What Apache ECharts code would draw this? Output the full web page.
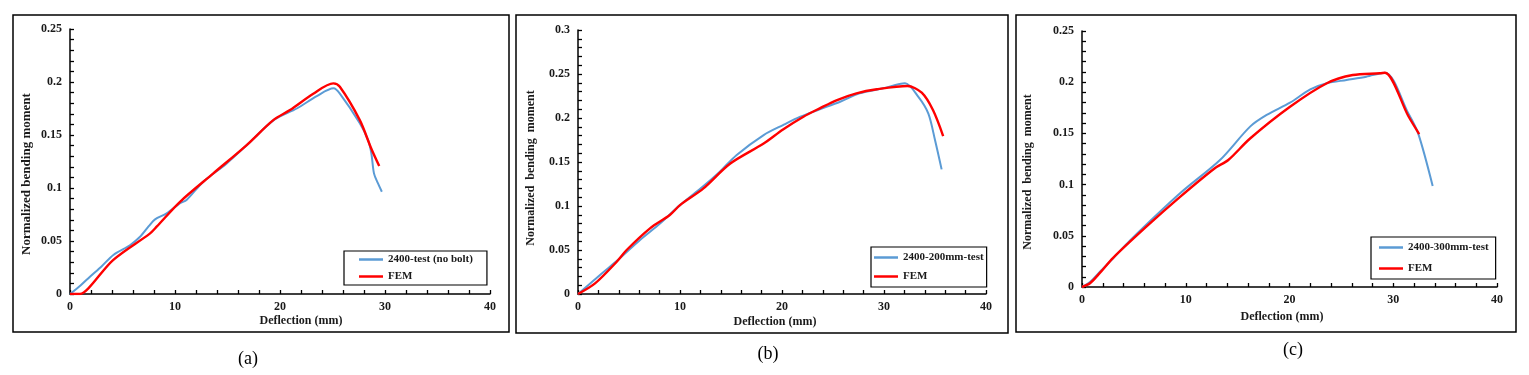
<!DOCTYPE html>
<html>
<head>
<meta charset="utf-8">
<script src="https://cdn.jsdelivr.net/npm/echarts@6/dist/echarts.min.js"></script>
<style>
html,body{margin:0;padding:0;background:#fff;}
#chart{width:1529px;height:375px;}
</style>
</head>
<body>
<div id="chart"></div>
<script>
// ---------- data ----------
const xTicks = [0, 10, 20, 30, 40];
const aTestX = [0, 1.0, 1.9, 3.0, 4.13, 5.71, 6.67, 7.5, 8.1, 9.2, 10.48, 11.1, 12.7, 14.9, 17.0, 19.4, 21.6, 23.5, 25.1, 25.7, 27.6, 28.4, 28.7, 28.95, 29.3, 29.7];
const aTestY = [0, 0.008, 0.0163, 0.026, 0.0368, 0.046, 0.054, 0.064, 0.0704, 0.076, 0.0857, 0.0887, 0.106, 0.123, 0.142, 0.164, 0.175, 0.1867, 0.194, 0.189, 0.161, 0.145, 0.1327, 0.1138, 0.105, 0.0965];
const aFemX = [0, 0.95, 1.75, 4.1, 7.6, 8.25, 10.48, 13.65, 16.83, 19.36, 20.95, 23.17, 25.08, 25.7, 27.6, 28.7, 29.45];
const aFemY = [0, 0, 0.0053, 0.032, 0.057, 0.0635, 0.087, 0.1138, 0.1405, 0.164, 0.1735, 0.189, 0.1987, 0.1955, 0.164, 0.137, 0.1207];

const bTestX = [0, 2.16, 4.1, 6.08, 8.04, 10, 12.3, 13.9, 15.56, 18.2, 20.1, 21.8, 23.7, 25.7, 27.6, 29.9, 32.06, 33.37, 34.35, 35, 35.65];
const bTestY = [0, 0.0216, 0.0405, 0.0614, 0.080, 0.101, 0.1227, 0.139, 0.158, 0.1806, 0.192, 0.2015, 0.2098, 0.2185, 0.228, 0.2337, 0.2394, 0.224, 0.205, 0.175, 0.1416];
const bFemX = [0, 1.67, 3.8, 4.77, 7.06, 9.0, 10, 12.3, 14.9, 18.2, 20.1, 22.1, 23.7, 25.4, 27.3, 29.3, 32.3, 33.7, 34.8, 35.8];
const bFemY = [0, 0.012, 0.0367, 0.05, 0.0746, 0.0897, 0.101, 0.12, 0.148, 0.171, 0.187, 0.2015, 0.211, 0.2204, 0.228, 0.2326, 0.2363, 0.2287, 0.209, 0.1795];

const cTestX = [0, 0.8, 1.6, 3.0, 4.63, 9.45, 13.3, 16.2, 17.8, 20.05, 22.0, 23.6, 25.5, 27.4, 29.2, 31.45, 32.4, 33.8];
const cTestY = [0, 0.005, 0.0135, 0.028, 0.0455, 0.0915, 0.124, 0.1566, 0.168, 0.180, 0.193, 0.199, 0.2022, 0.2054, 0.2093, 0.1696, 0.150, 0.0986];
const cFemX = [0, 0.77, 1.7, 3.0, 6.2, 9.45, 12.8, 14.1, 16.2, 20.05, 23.6, 26.1, 28.7, 29.2, 31.45, 32.5];
const cFemY = [0, 0.0036, 0.0135, 0.0285, 0.0589, 0.088, 0.116, 0.124, 0.145, 0.176, 0.199, 0.207, 0.2087, 0.2093, 0.167, 0.1494];

const names = [
  ['2400-test (no bolt)', 'FEM'],
  ['2400-200mm-test', 'FEM'],
  ['2400-300mm-test', 'FEM']
];
const yMax = [0.25, 0.3, 0.25];
const panelLabels = ['(a)', '(b)', '(c)'];

// ---------- layout ----------
const zip = (xs, ys) => xs.map((x, i) => [x, ys[i]]);
const grids = [
  {left: 70, top: 29, width: 420, height: 265},
  {left: 578, top: 30, width: 408, height: 264},
  {left: 1082, top: 31, width: 415, height: 256}
];
const borders = [
  {x: 13, y: 15, w: 496, h: 317},
  {x: 516, y: 15, w: 492, h: 318},
  {x: 1016, y: 15, w: 500, h: 317}
];
const FONT = '"Liberation Serif", "Times New Roman", serif';
const TXT = '#1a1a1a';
const BLUE = '#5B9BD5';
const RED = '#FF0000';

const axisCommon = {
  axisLine: {show: true, onZero: false, lineStyle: {color: '#000', width: 1.5}},
  axisTick: {show: true, inside: true, length: 4, lineStyle: {color: '#000', width: 1.3}},
  minorTick: {show: true, splitNumber: 5, length: 4, lineStyle: {color: '#000', width: 1.3}},
  splitLine: {show: false},
  minorSplitLine: {show: false},
  axisLabel: {fontFamily: FONT, fontWeight: 'bold', fontSize: 12, color: TXT}
};

const xAxis = [], yAxis = [], grid = [], series = [], legend = [];
const testData = [zip(aTestX, aTestY), zip(bTestX, bTestY), zip(cTestX, cTestY)];
const femData = [zip(aFemX, aFemY), zip(bFemX, bFemY), zip(cFemX, cFemY)];
const legendPos = [
  {left: 344, top: 251, padding: [3, 14, 3, 15], itemGap: 6},
  {left: 871, top: 247, padding: [5, 3, 5, 3], itemGap: 8},
  {left: 1371, top: 237, padding: [5, 7, 5, 8], itemGap: 10}
];

for (let i = 0; i < 3; i++) {
  grid.push(Object.assign({outerBoundsMode: 'none', containLabel: false}, grids[i]));
  xAxis.push(Object.assign({}, axisCommon, {
    type: 'value', gridIndex: i, min: xTicks[0], max: xTicks[xTicks.length - 1], interval: 10,
    axisLabel: Object.assign({}, axisCommon.axisLabel, {margin: 7})
  }));
  yAxis.push(Object.assign({}, axisCommon, {
    type: 'value', gridIndex: i, min: 0, max: yMax[i], interval: 0.05,
    axisLabel: Object.assign({}, axisCommon.axisLabel, {margin: 8, formatter: v => String(+v.toFixed(2))})
  }));
  series.push({
    name: names[i][0], type: 'line', xAxisIndex: i, yAxisIndex: i, data: testData[i],
    showSymbol: false, symbol: 'none', smooth: 0.3,
    lineStyle: {color: BLUE, width: 2}, itemStyle: {color: BLUE}, z: 2
  });
  series.push({
    name: names[i][1] + (i === 0 ? '' : ' ' + '\u200B'.repeat(i)), type: 'line', xAxisIndex: i, yAxisIndex: i, data: femData[i],
    showSymbol: false, symbol: 'none', smooth: 0.3,
    lineStyle: {color: RED, width: 2.4}, itemStyle: {color: RED}, z: 3
  });
  legend.push(Object.assign({
    orient: 'vertical', icon: 'rect', itemWidth: 24, itemHeight: 2.5,
    borderColor: '#000', borderWidth: 1.2, backgroundColor: '#fff',
    selectedMode: false,
    data: [series[2 * i].name, series[2 * i + 1].name],
    textStyle: {fontFamily: FONT, fontWeight: 'bold', fontSize: 11, color: TXT, lineHeight: 11},
    formatter: n => n.replace(/[\u200B ]+$/, '')
  }, legendPos[i]));
}

const graphic = [];
borders.forEach(b => graphic.push({
  type: 'rect', shape: {x: b.x, y: b.y, width: b.w, height: b.h},
  style: {fill: 'none', stroke: '#000', lineWidth: 1.5}, z: -1
}));
const xTitlePos = [[301, 321], [775, 322], [1282, 317]];
const yTitlePos = [[27, 174], [531, 168], [1028, 172]];
const yTitleText = ['Normalized bending moment', 'Normalized  bending  moment', 'Normalized  bending  moment'];
const yTitleSize = [13, 12, 12];
const panelPos = [[248, 359], [768, 354], [1293, 350]];
for (let i = 0; i < 3; i++) {
  graphic.push({
    type: 'text', x: xTitlePos[i][0], y: xTitlePos[i][1],
    style: {text: 'Deflection (mm)', font: 'bold 12px ' + FONT, fill: TXT, align: 'center', verticalAlign: 'middle'}
  });
  graphic.push({
    type: 'text', x: yTitlePos[i][0], y: yTitlePos[i][1], rotation: Math.PI / 2,
    style: {text: yTitleText[i], font: 'bold ' + yTitleSize[i] + 'px ' + FONT, fill: TXT, align: 'center', verticalAlign: 'middle'}
  });
  graphic.push({
    type: 'text', x: panelPos[i][0], y: panelPos[i][1],
    style: {text: panelLabels[i], font: '18px ' + FONT, fill: '#000', align: 'center', verticalAlign: 'middle'}
  });
}

const chart = echarts.init(document.getElementById('chart'), null, {renderer: 'canvas'});
chart.setOption({
  backgroundColor: '#fff',
  animation: false,
  grid, xAxis, yAxis, series, legend, graphic
});
</script>
</body>
</html>
